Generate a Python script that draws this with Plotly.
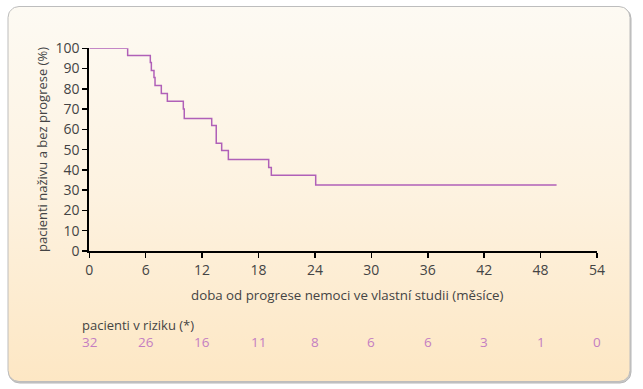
import numpy as np
import plotly.graph_objects as go

# ---- data ----
event_months = [0, 4.08, 6.49, 6.6, 6.88, 6.99, 7.66, 8.30, 10.0, 10.1, 13.02, 13.5, 14.08, 14.79, 19.08, 19.36, 24.08, 49.7]
survival_pct = [100, 96.4, 93.0, 89.0, 85.6, 81.6, 77.7, 73.9, 70.0, 65.4, 61.9, 53.1, 49.6, 45.2, 41.2, 37.4, 32.5, 32.5]
tick_months = [0, 6, 12, 18, 24, 30, 36, 42, 48, 54]
at_risk = [32, 26, 16, 11, 8, 6, 6, 3, 1, 0]
y_ticks = [0, 10, 20, 30, 40, 50, 60, 70, 80, 90, 100]

W, H = 643, 389
FONT = "Open Sans"
LINE_COLOR = "#b060b8"
RISK_COLOR = "#c47ec2"
TEXT_COLOR = "#444444"

# ---- rounded card background (pixel coordinates) ----
def rounded_rect(x0, y0, x1, y1, r, n=12):
    xs, ys = [], []
    corners = [(x1 - r, y0 + r, -90, 0), (x1 - r, y1 - r, 0, 90),
               (x0 + r, y1 - r, 90, 180), (x0 + r, y0 + r, 180, 270)]
    for cx, cy, a0, a1 in corners:
        for a in np.linspace(np.radians(a0), np.radians(a1), n):
            xs.append(cx + r * np.cos(a))
            ys.append(cy + r * np.sin(a))
    xs.append(xs[0]); ys.append(ys[0])
    return xs, ys

fig = go.Figure()

sx, sy = rounded_rect(8.5, 7.5, 631, 383, 11)
fig.add_trace(go.Scatter(x=sx, y=sy, mode="lines", fill="toself",
                         line=dict(color="#b5b5b5", width=1), fillcolor="#c9c9c9",
                         hoverinfo="skip", showlegend=False, xaxis="x", yaxis="y"))
cx, cy = rounded_rect(8, 6.5, 630, 381.5, 11)
fig.add_trace(go.Scatter(x=cx, y=cy, mode="lines", fill="toself",
                         line=dict(color="#bdbdbd", width=1),
                         fillgradient=dict(type="vertical",
                                           colorscale=[[0, "#fde7c4"], [0.5, "#fdf2e0"], [1, "#fdfaf3"]]),
                         hoverinfo="skip", showlegend=False, xaxis="x", yaxis="y"))

# ---- Kaplan-Meier step curve ----
fig.add_trace(go.Scatter(x=event_months, y=survival_pct, mode="lines",
                         line=dict(color=LINE_COLOR, width=1.5, shape="hv"),
                         showlegend=False, xaxis="x2", yaxis="y2", hoverinfo="skip"))

x0p, x1p = 89.3, 597.0
ytop, ybot = 48.3, 251.0

ann = []
ann.append(dict(text="doba od progrese nemoci ve vlastní studii (měsíce)", x=347 / W, y=1 - 295 / H,
                xref="paper", yref="paper", showarrow=False, xanchor="center", yanchor="middle",
                font=dict(family=FONT, size=13.3, color=TEXT_COLOR)))
ann.append(dict(text="pacienti naživu a bez progrese (%)", x=42 / W, y=1 - 150 / H,
                xref="paper", yref="paper", showarrow=False, textangle=-90,
                xanchor="center", yanchor="middle",
                font=dict(family=FONT, size=13, color=TEXT_COLOR)))
ann.append(dict(text="pacienti v riziku (*)", x=81 / W, y=1 - 324.5 / H,
                xref="paper", yref="paper", showarrow=False, xanchor="left", yanchor="middle",
                borderpad=0, font=dict(family=FONT, size=13, color=TEXT_COLOR)))
for m, n in zip(tick_months, at_risk):
    ann.append(dict(text=str(n), x=m, y=1 - 342 / H, xref="x2", yref="paper",
                    showarrow=False, xanchor="center", yanchor="middle", borderpad=0,
                    font=dict(family=FONT, size=13.5, color=RISK_COLOR)))

fig.update_layout(
    template="none",
    width=W, height=H,
    autosize=False,
    margin=dict(l=0, r=0, t=0, b=0, pad=0, autoexpand=False),
    paper_bgcolor="white",
    plot_bgcolor="rgba(0,0,0,0)",
    showlegend=False,
    hovermode=False,
    xaxis=dict(domain=[0, 1], range=[0, W], visible=False, fixedrange=True, automargin=False),
    yaxis=dict(domain=[0, 1], range=[H, 0], visible=False, fixedrange=True, automargin=False),
    xaxis2=dict(domain=[x0p / W, x1p / W], range=[0, 54], anchor="y2", automargin=False,
                tickvals=tick_months, ticks="outside", ticklen=5, tickwidth=1.5,
                tickcolor="black", showline=True, linecolor="black", linewidth=2,
                showgrid=False, zeroline=False, ticklabelstandoff=0, fixedrange=True,
                tickfont=dict(family=FONT, size=14, color=TEXT_COLOR)),
    yaxis2=dict(domain=[1 - ybot / H, 1 - ytop / H], range=[0, 100], anchor="x2", automargin=False,
                tickvals=y_ticks, ticks="outside", ticklen=5, tickwidth=1.5,
                tickcolor="black", showline=True, linecolor="black", linewidth=2,
                showgrid=False, zeroline=False, fixedrange=True,
                tickfont=dict(family=FONT, size=14, color=TEXT_COLOR)),
    annotations=ann,
)

fig.write_html("out.html", config={"displayModeBar": False, "staticPlot": True},
               post_script="document.body.style.margin='0px';document.body.style.overflow='hidden';")
